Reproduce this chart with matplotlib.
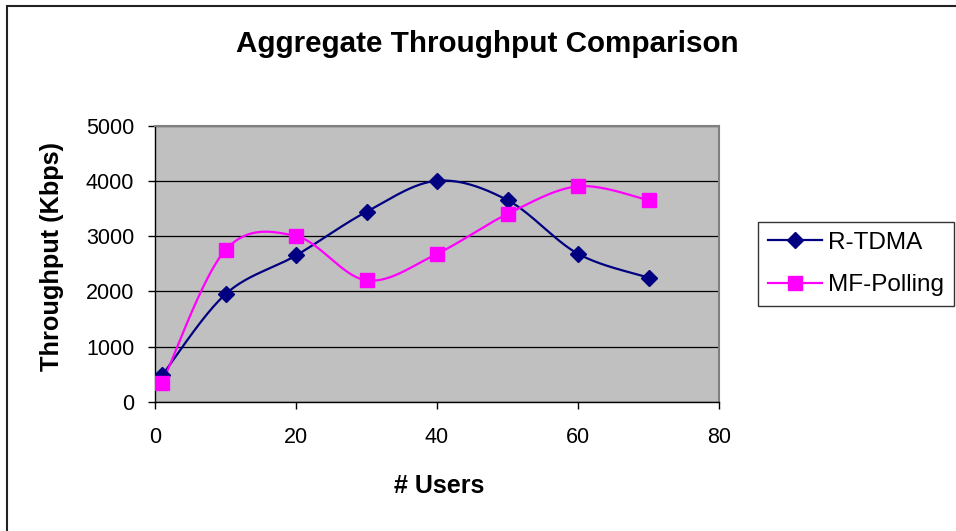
import numpy as np
import matplotlib
matplotlib.use("Agg")
import matplotlib.pyplot as plt
from matplotlib.lines import Line2D
from matplotlib.patches import Rectangle

plt.rcParams["font.family"] = ["Liberation Sans", "DejaVu Sans"]

# Values
users = [1, 10, 20, 30, 40, 50, 60, 70]
rtdma = [480, 1950, 2650, 3440, 4000, 3650, 2680, 2250]
mf_polling = [340, 2750, 3000, 2200, 2680, 3400, 3900, 3650]
x_ticks = [0, 20, 40, 60, 80]
y_ticks = [0, 1000, 2000, 3000, 4000, 5000]


def excel_smooth(x, y, sx, sy, n=40):
    """Excel-style smoothed line: Catmull-Rom bezier in screen-ish space."""
    p = np.column_stack([np.asarray(x, float) * sx, np.asarray(y, float) * sy])
    out = [p[0]]
    t = np.linspace(0, 1, n)[1:, None]
    for i in range(len(p) - 1):
        p0 = p[i - 1] if i > 0 else p[i]
        p1, p2 = p[i], p[i + 1]
        p3 = p[i + 2] if i + 2 < len(p) else p[i + 1]
        c1 = p1 + (p2 - p0) / 6
        c2 = p2 - (p3 - p1) / 6
        seg = ((1 - t) ** 3) * p1 + 3 * ((1 - t) ** 2) * t * c1 \
            + 3 * (1 - t) * t ** 2 * c2 + t ** 3 * p2
        out.extend(seg)
    out = np.array(out)
    return out[:, 0] / sx, out[:, 1] / sy


W, H = 956, 531
fig = plt.figure(figsize=(W / 100, H / 100), dpi=100)
ax = fig.add_axes([155 / W, 1 - 402 / H, 564 / W, 276.5 / H])
ax.set_facecolor("#C0C0C0")

# pixel scale of the plot area, used so the smoothing looks like Excel's
sx = 564 / 80
sy = 276.5 / 5000

navy = "#000080"
magenta = "#FF00FF"

xs, ys = excel_smooth(users, rtdma, sx, sy)
ax.plot(xs, ys, color=navy, lw=1.6, zorder=3)
ax.plot(users, rtdma, "D", color=navy, ms=8, zorder=4)

xs, ys = excel_smooth(users, mf_polling, sx, sy)
ax.plot(xs, ys, color=magenta, lw=1.6, zorder=3)
ax.plot(users, mf_polling, "s", color=magenta, ms=9.5, zorder=4)

ax.set_xlim(0, 80)
ax.set_ylim(0, 5000)
ax.set_xticks(x_ticks)
ax.set_yticks(y_ticks)
ax.yaxis.grid(True, color="black", lw=0.9)
ax.set_axisbelow(True)
ax.tick_params(direction="out", length=5, width=1, labelsize=15.5, colors="black")
ax.tick_params(axis="x", pad=13)
ax.tick_params(axis="y", pad=10)
for s in ["top", "right"]:
    ax.spines[s].set_color("#808080")
    ax.spines[s].set_linewidth(1.5)
for s in ["left", "bottom"]:
    ax.spines[s].set_color("black")
    ax.spines[s].set_linewidth(1)

fig.text(487 / W, 1 - 44 / H, "Aggregate Throughput Comparison",
         ha="center", va="center", fontsize=21.3, fontweight="bold")
fig.text(439 / W, 1 - 486 / H, "# Users", ha="center", va="center",
         fontsize=18, fontweight="bold")
fig.text(52 / W, 1 - 257 / H, "Throughput (Kbps)", ha="center", va="center",
         rotation=90, fontsize=18.3, fontweight="bold")

handles = [
    Line2D([], [], color=navy, lw=1.6, marker="D", ms=8),
    Line2D([], [], color=magenta, lw=1.6, marker="s", ms=9.5),
]
leg = fig.legend(handles, ["R-TDMA", "MF-Polling"], loc="upper left",
                 bbox_to_anchor=(758 / W, 1 - 222 / H), borderaxespad=0,
                 fontsize=17.5, frameon=True, fancybox=False, handlelength=2.25,
                 handletextpad=0.25, borderpad=0.4, labelspacing=0.85)
leg.get_frame().set_edgecolor("black")
leg.get_frame().set_linewidth(1)

# chart-area border (only left and top edges are visible in the original)
fig.patches.append(Rectangle((6.5 / W, -0.1), 1.2, 1 - 5.5 / H + 0.1,
                             transform=fig.transFigure, fill=False,
                             edgecolor="#222222", lw=1.5))

fig.savefig("out.png", dpi=100)
